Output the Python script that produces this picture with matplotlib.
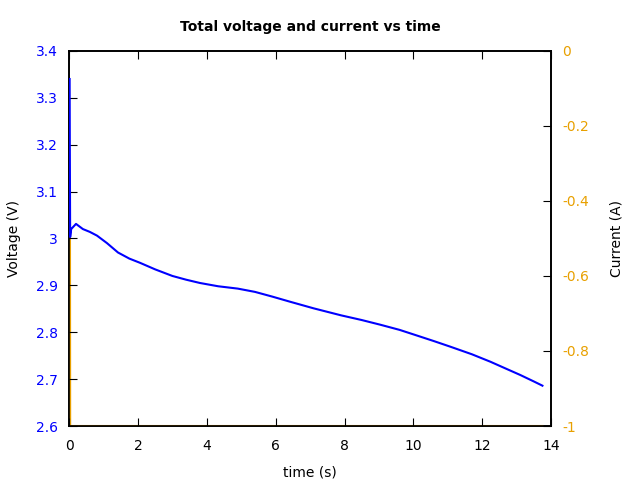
import matplotlib.pyplot as plt
from matplotlib.ticker import FuncFormatter

# voltage vs time
t_v = [0.015, 0.02, 0.03, 0.06, 0.2, 0.4, 0.6, 0.81, 1.1, 1.42, 1.75, 2.06, 2.5,
       3.0, 3.4, 3.8, 4.33, 4.9, 5.4, 5.9, 6.42, 7.1, 7.9, 8.5, 9.04, 9.6,
       10.06, 10.6, 11.08, 11.7, 12.24, 12.7, 13.1, 13.5, 13.75]
volt = [3.34, 3.2, 3.003, 3.02, 3.031, 3.02, 3.014, 3.006, 2.99, 2.97, 2.957,
        2.948, 2.934, 2.92, 2.912, 2.905, 2.898, 2.893, 2.886, 2.876, 2.865,
        2.851, 2.836, 2.826, 2.816, 2.805, 2.794, 2.781, 2.769, 2.753, 2.737,
        2.722, 2.709, 2.695, 2.686]

# current vs time
t_i = [0.025, 0.03, 13.75]
curr = [-0.49, -1.0, -1.0]

orange = '#e8a000'

fig, ax = plt.subplots(figsize=(6.4, 4.8), dpi=100)
fig.subplots_adjust(left=0.108, right=0.861, top=0.894, bottom=0.1125)
ax2 = ax.twinx()
ax.set_zorder(2)
ax.patch.set_visible(False)

ax2.plot(t_i, curr, color=orange, lw=1.5, zorder=3)
ax.plot(t_v, volt, color='blue', lw=1.5, zorder=3)

ax.set_xlim(0, 14)
ax.set_ylim(2.6, 3.4)
ax2.set_ylim(-1, 0)
ax.set_xticks(range(0, 15, 2))
ax.set_yticks([2.6 + 0.1 * k for k in range(9)])
ax2.set_yticks([-1, -0.8, -0.6, -0.4, -0.2, 0])

fmt = FuncFormatter(lambda v, p: ('%g' % round(v, 2)))
ax.yaxis.set_major_formatter(fmt)
ax2.yaxis.set_major_formatter(fmt)

ax.tick_params(axis='x', direction='in', top=True, length=6, pad=9)
ax.tick_params(axis='y', direction='in', length=6, colors='black', labelcolor='blue', pad=8)
ax2.tick_params(axis='y', direction='in', length=6, labelcolor=orange, pad=8)

for a in (ax, ax2):
    for s in a.spines.values():
        s.set_linewidth(1.2)

ax.set_xlabel('time (s)', labelpad=9)
ax.set_ylabel('Voltage (V)', labelpad=11)
ax2.set_ylabel('Current (A)', labelpad=15)
ax.set_title('Total voltage and current vs time', fontweight='bold', fontsize=10, pad=14)

plt.savefig('out.png')
